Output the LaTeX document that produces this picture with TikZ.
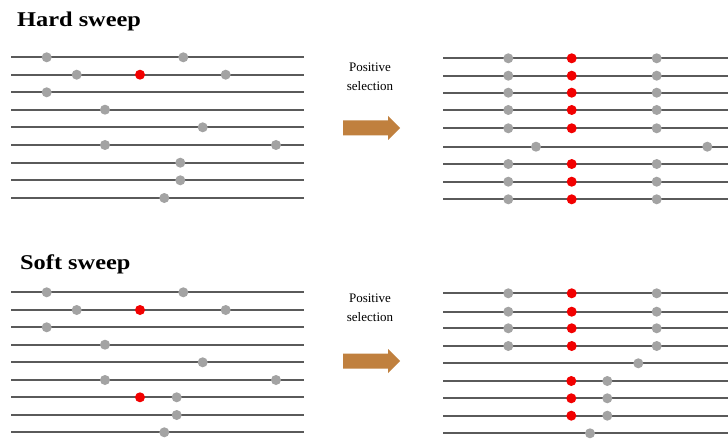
\documentclass[tikz,border=0pt]{standalone}
\usepackage{fontspec}
\setmainfont{Liberation Serif}
\newfontfamily\titlefont[FakeStretch=1.16]{Liberation Serif}
\definecolor{linegray}{HTML}{5A5A5A}
\definecolor{dotgray}{HTML}{A3A3A3}
\definecolor{dotred}{HTML}{F20000}
\definecolor{arrowbrown}{HTML}{C0803E}
\tikzset{
  chrom/.style={draw=linegray, line width=2pt},
  gdot/.style={circle, fill=dotgray, minimum size=10pt, inner sep=0pt},
  rdot/.style={circle, fill=dotred, minimum size=10pt, inner sep=0pt},
  heading/.style={anchor=base west, inner sep=0pt, font=\titlefont\bfseries\fontsize{21}{24}\selectfont},
  seltext/.style={align=center, inner sep=0pt, anchor=base, font=\fontsize{13}{19}\selectfont},
  bigarrow/.style={fill=arrowbrown}
}
\begin{document}
\begin{tikzpicture}[x=1pt,y=-1pt]
\useasboundingbox[fill=white] (0,0) rectangle (728,441);

% ---------- Hard sweep ----------
\node[heading] (hardtitle) at (17,27) {Hard sweep};
% left chromosomes
\foreach \y in {57.3,74.7,92.3,109.7,127.3,145,162.7,180.3,198}
  \draw[chrom] (11,\y) -- (304,\y);
\foreach \x/\y [count=\i] in {46.7/57.3,183.3/57.3,76.7/74.7,225.7/74.7,46.7/92.3,105/109.7,202.7/127.3,105/145,276/145,180.3/162.7,180.3/180.3,164.3/198}
  \node[gdot] (hl\i) at (\x,\y) {};
\node[rdot] (hlr) at (140,74.7) {};
% right chromosomes
\foreach \y in {58.3,75.7,92.7,110,128.3,146.7,164,181.7,199.3}
  \draw[chrom] (443,\y) -- (728,\y);
\foreach \y [count=\i] in {58.3,75.7,92.7,110,128.3,164,181.7,199.3}{
  \node[gdot] (hra\i) at (508.3,\y) {};
  \node[rdot] (hrr\i) at (571.7,\y) {};
  \node[gdot] (hrb\i) at (656.7,\y) {};
}
\node[gdot] (hrc1) at (536,146.7) {};
\node[gdot] (hrc2) at (707.3,146.7) {};
% arrow and label
\node[seltext] (hardsel) at (370,91) {Positive\\selection};
\fill[bigarrow] (343,120.5) -- (388,120.5) -- (388,116) -- (400,128) -- (388,140) -- (388,135.5) -- (343,135.5) -- cycle;

% ---------- Soft sweep ----------
\node[heading] (softtitle) at (20,269) {Soft sweep};
% left chromosomes
\foreach \y in {292.3,310,327.3,344.7,362.3,380,397.3,415,432.3}
  \draw[chrom] (11,\y) -- (304,\y);
\foreach \x/\y [count=\i] in {46.7/292.3,183.3/292.3,76.7/310,225.7/310,46.7/327.3,105/344.7,202.7/362.3,105/380,276/380,176.7/397.3,176.7/415,164.3/432.3}
  \node[gdot] (sl\i) at (\x,\y) {};
\node[rdot] (slr1) at (140,310) {};
\node[rdot] (slr2) at (140,397.3) {};
% right chromosomes
\foreach \y in {293.3,311.7,328.3,346,363.3,381,398.3,415.7,433.3}
  \draw[chrom] (443,\y) -- (728,\y);
\foreach \y [count=\i] in {293.3,311.7,328.3,346}{
  \node[gdot] (sra\i) at (508.3,\y) {};
  \node[rdot] (srr\i) at (571.7,\y) {};
  \node[gdot] (srb\i) at (656.7,\y) {};
}
\node[gdot] (src1) at (638.3,363.3) {};
\foreach \y [count=\i] in {381,398.3,415.7}{
  \node[rdot] (srd\i) at (571.3,\y) {};
  \node[gdot] (sre\i) at (607.3,\y) {};
}
\node[gdot] (srf1) at (590,433.3) {};
% arrow and label
\node[seltext] (softsel) at (370,321) {Positive\\selection};
\fill[bigarrow] (343,353.5) -- (388,353.5) -- (388,349) -- (400,361) -- (388,373) -- (388,368.5) -- (343,368.5) -- cycle;
\end{tikzpicture}
\end{document}
